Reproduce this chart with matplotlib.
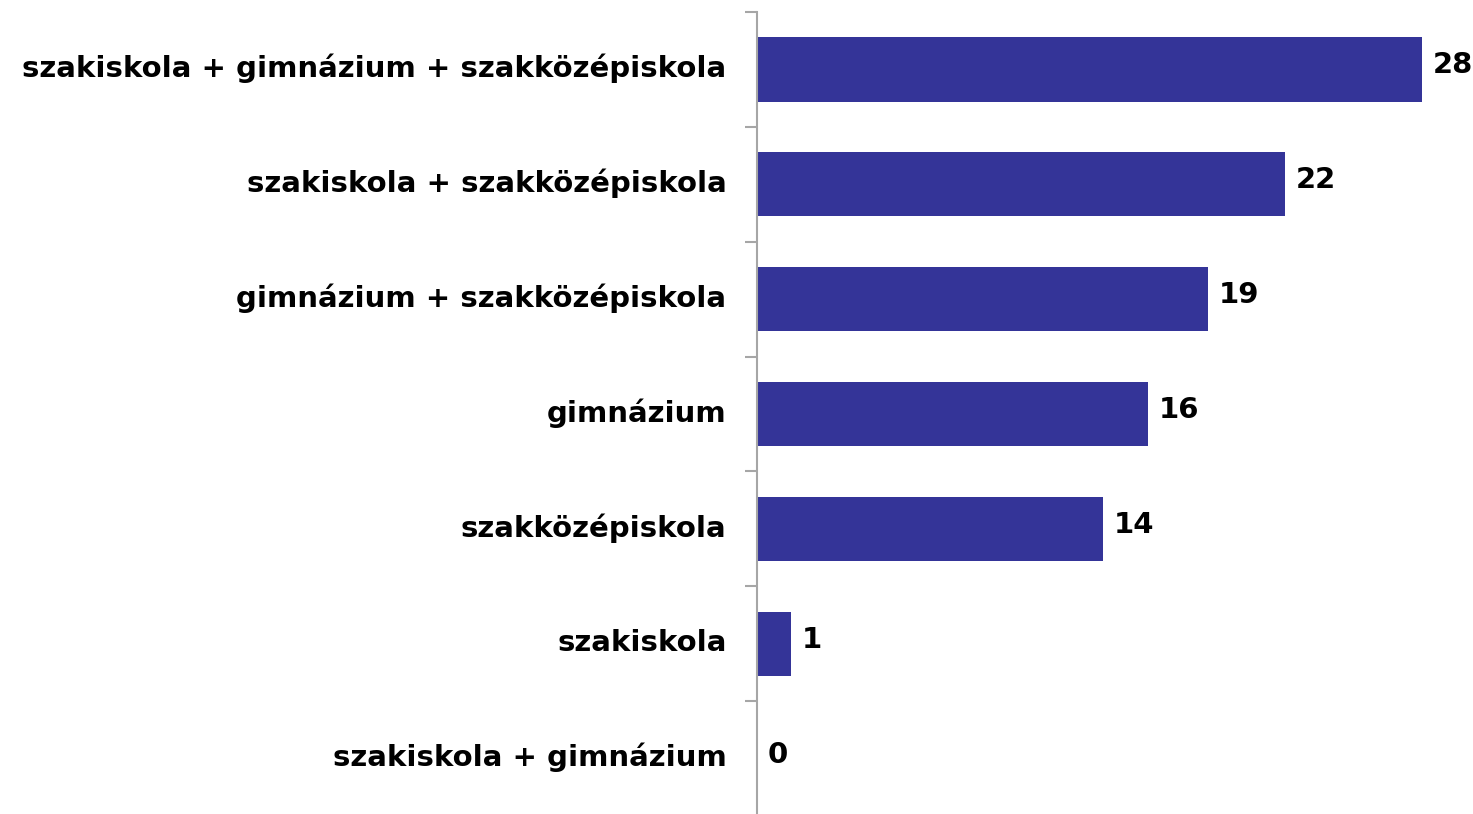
import matplotlib
matplotlib.use("Agg")
import matplotlib.pyplot as plt
import matplotlib.transforms as mtransforms
import numpy as np

categories = [
    "szakiskola + gimnázium + szakközépiskola",
    "szakiskola + szakközépiskola",
    "gimnázium + szakközépiskola",
    "gimnázium",
    "szakközépiskola",
    "szakiskola",
    "szakiskola + gimnázium",
]
values = [27.7, 22.0, 18.8, 16.3, 14.4, 1.4, 0.0]

W, H = 1473, 814
dpi = 100
fig = plt.figure(figsize=(W / dpi, H / dpi), dpi=dpi)

ax_left, ax_right = 757, 1473
ax_top, ax_bot = 12, 816
ax = fig.add_axes([ax_left / W, (H - ax_bot) / H, (ax_right - ax_left) / W, (ax_bot - ax_top) / H])

n = len(categories)
y = np.arange(n)
bar_color = "#343498"
ax.barh(y, values, height=0.56, color=bar_color, zorder=2)
ax.set_ylim(n - 0.5, -0.5)
ax.set_xlim(0, (ax_right - ax_left) / 24.0)

fs = 21
font = dict(family="DejaVu Sans", weight="bold")
up = mtransforms.ScaledTranslation(0, 4 / dpi, fig.dpi_scale_trans)

ax.set_yticks(y)
ax.set_yticklabels(categories, fontsize=fs, **font)
ax.tick_params(axis="y", which="major", length=0, pad=22)
for lab in ax.get_yticklabels():
    lab.set_transform(lab.get_transform() + up)
ax.set_yticks(np.arange(-0.5, n + 0.5, 1), minor=True)
ax.tick_params(axis="y", which="minor", length=9, width=1.5, color="#A6A6A6", direction="out")

for v, yy in zip(values, y):
    ax.text(v + 0.45, yy, f"{v:.0f}", va="center", ha="left", fontsize=fs, color="black",
            transform=ax.transData + up, **font)

for s in ["top", "right", "bottom"]:
    ax.spines[s].set_visible(False)
ax.spines["left"].set_color("#A6A6A6")
ax.spines["left"].set_linewidth(1.5)
ax.set_xticks([])

fig.savefig("out.png", dpi=dpi)
